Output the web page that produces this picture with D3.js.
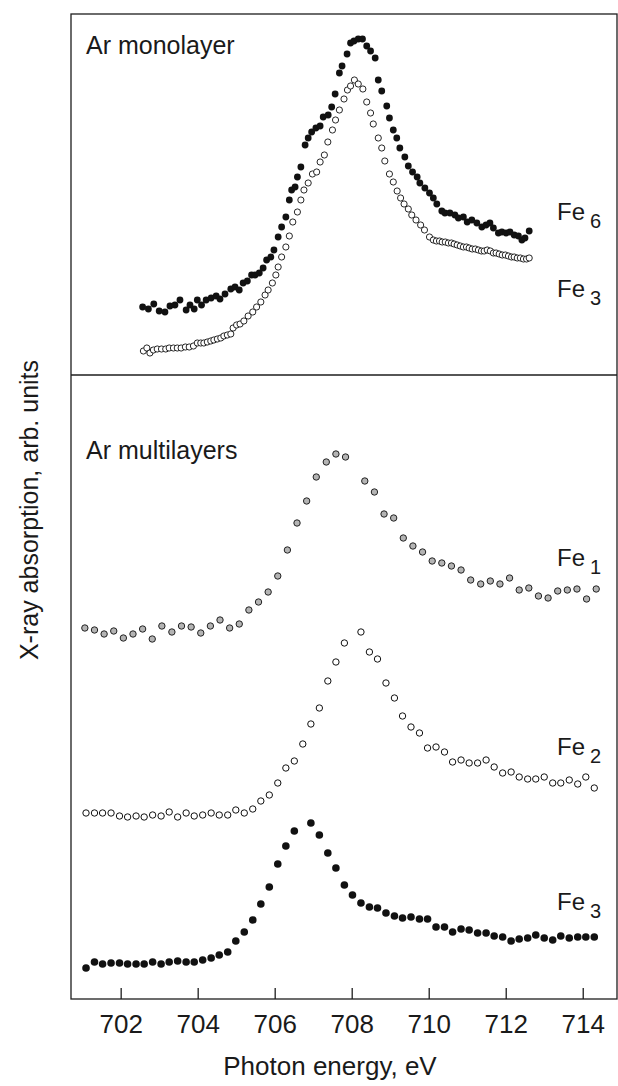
<!DOCTYPE html>
<html><head><meta charset="utf-8">
<script src="https://cdn.jsdelivr.net/npm/d3@7"></script>
<style>body{margin:0;background:#fff} svg{display:block} text{font-family:"Liberation Sans",Arial,Helvetica,sans-serif;fill:#1a1a1a}</style>
</head><body><svg id="chart" width="618" height="1086"></svg>
<script>
// ---------- data ----------
const xTicks = [702, 704, 706, 708, 710, 712, 714];

// Ar monolayer, Fe6 (filled)
const monoFe6Energy = [702.57,702.72,702.86,703.00,703.15,703.28,703.41,703.54,703.70,703.80,
703.91,703.99,704.10,704.22,704.35,704.48,704.58,704.71,704.86,704.97,
705.08,705.18,705.29,705.40,705.49,705.60,705.70,705.79,705.90,705.98,
706.09,706.18,706.29,706.38,706.44,706.53,706.59,706.68,706.79,706.87,
706.96,707.07,707.18,707.26,707.39,707.48,707.57,707.68,707.75,707.88,
707.97,708.06,708.17,708.28,708.39,708.49,708.61,708.69,708.78,708.91,
708.98,709.08,709.17,709.25,709.38,709.47,709.58,709.70,709.77,709.90,
710.02,710.12,710.21,710.34,710.42,710.55,710.68,710.77,710.90,711.00,
711.12,711.25,711.38,711.49,711.59,711.68,711.81,711.90,712.01,712.11,
712.22,712.33,712.42,712.50,712.61];
const monoFe6Value = [6.92,6.90,6.95,6.88,6.87,6.93,6.94,6.99,6.89,6.94,
6.90,6.99,6.94,6.99,7.01,7.03,7.00,7.05,7.10,7.12,
7.09,7.16,7.18,7.24,7.24,7.26,7.31,7.39,7.42,7.49,
7.62,7.72,7.82,7.99,8.09,8.12,8.22,8.32,8.54,8.61,
8.67,8.71,8.73,8.82,8.84,8.92,9.05,9.26,9.33,9.45,
9.56,9.58,9.60,9.60,9.53,9.48,9.41,9.19,9.08,8.93,
8.81,8.69,8.61,8.51,8.42,8.33,8.27,8.22,8.16,8.11,
8.06,8.01,7.95,7.88,7.86,7.86,7.84,7.81,7.82,7.77,
7.79,7.76,7.72,7.74,7.76,7.71,7.66,7.67,7.66,7.67,
7.64,7.63,7.59,7.61,7.68];

// Ar monolayer, Fe3 (open)
const monoFe3Energy = [702.59,702.68,702.76,702.85,702.95,703.06,703.17,703.26,703.37,703.47,
703.57,703.68,703.78,703.89,703.99,704.08,704.16,704.25,704.34,704.42,
704.51,704.60,704.68,704.77,704.86,704.92,705.01,705.10,705.20,705.31,
705.43,705.53,705.64,705.75,705.83,705.94,706.03,706.09,706.18,706.29,
706.38,706.47,706.59,706.68,706.76,706.87,706.98,707.09,707.18,707.29,
707.38,707.50,707.58,707.68,707.80,707.89,707.97,708.07,708.17,708.29,
708.39,708.49,708.56,708.69,708.78,708.86,708.98,709.08,709.18,709.27,
709.36,709.47,709.56,709.67,709.79,709.89,710.02,710.12,710.20,710.28,
710.35,710.43,710.51,710.59,710.66,710.74,710.82,710.90,710.98,711.05,
711.13,711.21,711.29,711.37,711.44,711.52,711.60,711.68,711.75,711.83,
711.91,711.99,712.07,712.15,712.22,712.30,712.38,712.46,712.54,712.61];
const monoFe3Value = [6.48,6.51,6.46,6.49,6.50,6.50,6.50,6.51,6.51,6.51,
6.51,6.52,6.52,6.53,6.56,6.56,6.56,6.57,6.58,6.59,
6.60,6.61,6.63,6.64,6.65,6.71,6.74,6.75,6.78,6.83,
6.87,6.92,6.97,7.04,7.09,7.16,7.24,7.32,7.42,7.52,
7.63,7.77,7.87,7.99,8.09,8.16,8.25,8.27,8.37,8.44,
8.57,8.69,8.79,8.89,9.00,9.09,9.13,9.19,9.15,9.10,
8.97,8.86,8.75,8.61,8.51,8.38,8.25,8.17,8.08,8.01,
7.95,7.90,7.84,7.79,7.74,7.69,7.62,7.59,7.58,7.58,
7.57,7.57,7.56,7.56,7.55,7.54,7.53,7.52,7.52,7.51,
7.50,7.50,7.49,7.48,7.48,7.49,7.48,7.46,7.46,7.45,
7.44,7.44,7.43,7.42,7.42,7.41,7.41,7.40,7.40,7.41];

// Ar multilayers, Fe1 (grey)
const multiFe1Energy = [701.07,701.32,701.57,701.82,702.07,702.32,702.57,702.82,703.07,703.33,
703.58,703.83,704.08,704.33,704.58,704.83,705.08,705.33,705.58,705.83,
706.08,706.33,706.58,706.83,707.08,707.34,707.59,707.84,708.09,708.34,
708.59,708.84,709.09,709.34,709.59,709.84,710.09,710.34,710.59,710.84,
711.09,711.35,711.60,711.85,712.10,712.35,712.60,712.85,713.10,713.35,
713.60,713.85,714.10,714.35];
const multiFe1Value = [3.71,3.69,3.65,3.68,3.61,3.65,3.70,3.60,3.73,3.67,
3.73,3.72,3.66,3.73,3.79,3.71,3.75,3.89,3.97,4.07,
4.23,4.49,4.76,4.98,5.22,5.37,5.45,5.42,null,5.18,
5.07,4.85,4.81,4.61,4.53,4.47,4.38,4.36,4.33,4.29,
4.19,4.15,4.18,4.15,4.21,4.09,4.11,4.03,4.01,4.08,
4.09,4.10,4.00,4.10];

// Ar multilayers, Fe2 (open) and Fe3 (filled), common energy grid
const multiEnergy = [701.10,701.32,701.53,701.75,701.97,702.18,702.40,702.61,702.83,703.05,
703.26,703.48,703.70,703.91,704.13,704.35,704.56,704.78,704.99,705.21,
705.43,705.64,705.86,706.08,706.29,706.51,706.73,706.94,707.16,707.38,
707.59,707.81,708.02,708.24,708.46,708.67,708.89,709.11,709.32,709.54,
709.76,709.97,710.19,710.41,710.62,710.84,711.05,711.27,711.49,711.70,
711.92,712.14,712.35,712.57,712.78,713.00,713.22,713.43,713.65,713.87,
714.08,714.30];
const multiFe2Value = [1.86,1.86,1.86,1.86,1.83,1.82,1.83,1.82,1.84,1.83,
1.87,1.82,1.86,1.83,1.84,1.86,1.84,1.84,1.89,1.86,
1.90,1.98,2.04,2.16,2.31,2.38,2.55,2.75,2.91,3.18,
3.37,3.56,null,3.67,3.47,3.40,3.16,3.01,2.83,2.72,
2.66,2.51,2.52,2.47,2.37,2.39,2.36,2.36,2.39,2.32,
2.26,2.27,2.22,2.20,2.20,2.22,2.16,2.16,2.19,2.15,
2.22,2.11];
const multiFe3Value = [0.31,0.37,0.35,0.36,0.36,0.35,0.35,0.35,0.37,0.35,
0.37,0.38,0.37,0.37,0.39,0.41,0.44,0.47,0.58,0.67,
0.79,0.95,1.12,1.35,1.53,1.68,null,1.76,1.64,1.46,
1.31,1.14,1.04,0.96,0.92,0.91,0.86,0.83,0.81,0.82,
0.80,0.80,0.72,0.72,0.67,0.70,0.69,0.66,0.66,0.63,
0.62,0.58,0.60,0.61,0.64,0.61,0.59,0.63,0.61,0.62,
0.62,0.62];

const panelSplit = 6.24;
const seriesLabels = [
  {name:"Fe", sub:"6", e:712.00, v:7.79},
  {name:"Fe", sub:"3", e:712.00, v:7.02},
  {name:"Fe", sub:"1", e:712.00, v:4.33},
  {name:"Fe", sub:"2", e:712.00, v:2.44},
  {name:"Fe", sub:"3", e:712.00, v:0.89}
];

// ---------- drawing ----------
const FONT = '"Liberation Sans", Arial, Helvetica, sans-serif';
const ink = "#1e1e1e";
const svg = d3.select("#chart");
const x = d3.scaleLinear().domain([700.71, 714.89]).range([71, 617]);
const y = d3.scaleLinear().domain([0, 9.85]).range([999, 14]);

function dots(E, V, r, fill, stroke, sw) {
  const pts = E.map((e, i) => [e, V[i]]).filter(p => p[1] != null);
  svg.append("g").selectAll("circle").data(pts).join("circle")
    .attr("cx", d => x(d[0])).attr("cy", d => y(d[1])).attr("r", r)
    .attr("fill", fill).attr("stroke", stroke).attr("stroke-width", sw);
}

// axis
const ax = svg.append("g").attr("transform", `translate(0,${y(0)})`)
  .call(d3.axisBottom(x).tickValues(xTicks).tickFormat(d3.format("d"))
    .tickSizeInner(-11).tickSizeOuter(0).tickPadding(16));
ax.select(".domain").remove();
ax.attr("font-family", FONT).attr("font-size", 26);
ax.selectAll("line").attr("stroke", ink).attr("stroke-width", 1.3);
ax.selectAll("text").attr("fill", ink);

// frame + divider
const [x0, x1] = x.range();
svg.append("rect").attr("x", x0).attr("y", y.range()[1])
  .attr("width", x1 - x0).attr("height", y.range()[0] - y.range()[1])
  .attr("fill", "none").attr("stroke", ink).attr("stroke-width", 1.3);
svg.append("line").attr("x1", x0).attr("x2", x1)
  .attr("y1", y(panelSplit)).attr("y2", y(panelSplit))
  .attr("stroke", ink).attr("stroke-width", 1.3);

// series
dots(monoFe3Energy, monoFe3Value, 3.1, "#fff", "#111", 0.9);
dots(monoFe6Energy, monoFe6Value, 3.4, "#111", "none", 0);
dots(multiFe1Energy, multiFe1Value, 3.2, "#b4b4b4", "#222", 1);
dots(multiEnergy, multiFe2Value, 3.2, "#fff", "#111", 1);
dots(multiEnergy, multiFe3Value, 3.8, "#111", "none", 0);

// series labels
seriesLabels.forEach(l => {
  const t = svg.append("text").attr("x", 557).attr("y", y(l.v))
    .attr("font-family", FONT).attr("font-size", 24).attr("fill", ink);
  t.append("tspan").text(l.name);
  t.append("tspan").attr("dx", 5).attr("dy", 8).attr("font-size", 20).text(l.sub);
});

// panel titles
svg.append("text").attr("x", 86).attr("y", 54).attr("font-family", FONT)
  .attr("font-size", 25).attr("fill", ink).text("Ar monolayer");
svg.append("text").attr("x", 86).attr("y", 459).attr("font-family", FONT)
  .attr("font-size", 25).attr("fill", ink).text("Ar multilayers");

// axis titles
svg.append("text").attr("x", 330).attr("y", 1075).attr("text-anchor", "middle")
  .attr("font-family", FONT).attr("font-size", 26).attr("fill", ink)
  .text("Photon energy, eV");
svg.append("text").attr("transform", "translate(38,510) rotate(-90)")
  .attr("text-anchor", "middle").attr("font-family", FONT).attr("font-size", 25)
  .attr("fill", ink).text("X-ray absorption, arb. units");
</script>
</body></html>
